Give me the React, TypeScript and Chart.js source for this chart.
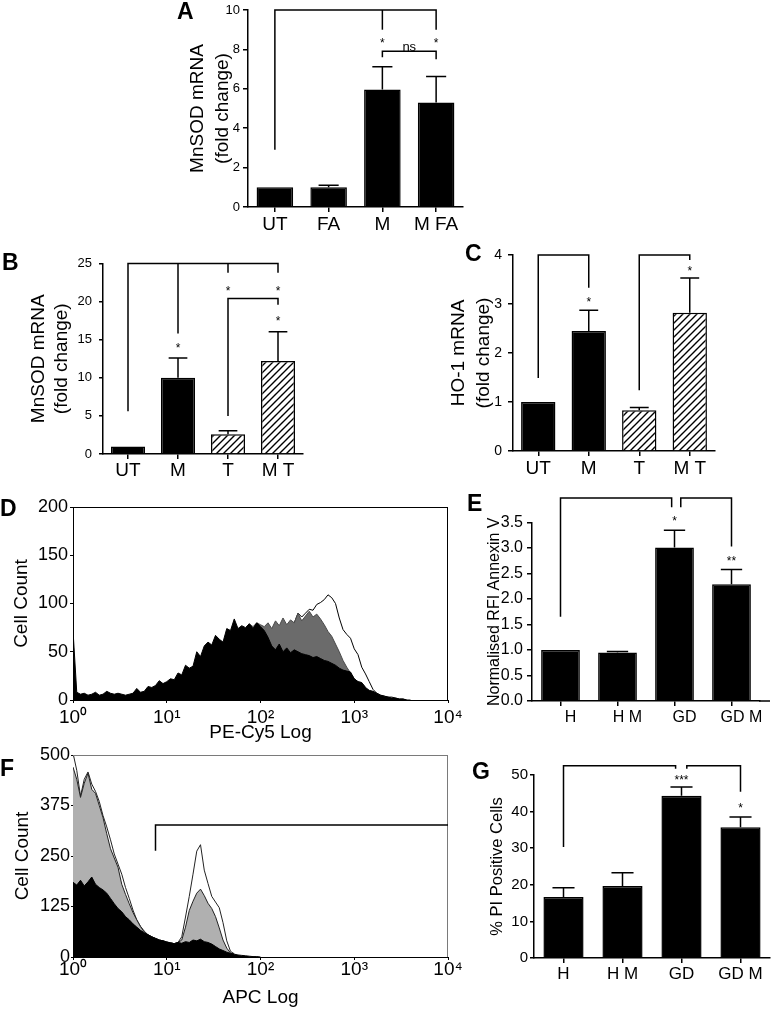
import React, { useEffect, useRef } from "react";
import { Chart, registerables } from "chart.js";

Chart.register(...registerables);

const FONT = "'Liberation Sans', Arial, Helvetica, sans-serif";

// ================= DATA =================
// Panel A
const aCategories = ["UT", "FA", "M", "M FA"];
const aValues = [1.0, 1.0, 5.97, 5.3];
const aErrors = [0, 0.1, 1.15, 1.32];
const aHatched = [false, false, false, false];
const aYTicks = [0, 2, 4, 6, 8, 10];
const aYLabels = ["0", "2", "4", "6", "8", "10"];
const aBrackets: [number, number][][] = [
  [[0, 2.9], [0, 10], [3, 10], [3, 9.0]],
  [[2, 10], [2, 9.0]],
  [[2, 7.6], [2, 7.9], [3, 7.9], [3, 7.5]],
];
const aSignif = [
  { x: 2, y: 8.45, text: "*" },
  { x: 3, y: 8.45, text: "*" },
  { x: 2.5, y: 8.1, text: "ns" },
];

// Panel B
const bCategories = ["UT", "M", "T", "M T"];
const bValues = [1.0, 10.0, 2.6, 12.2];
const bErrors = [0, 2.6, 0.45, 3.85];
const bHatched = [false, false, true, true];
const bYTicks = [0, 5, 10, 15, 20, 25];
const bYLabels = ["0", "5", "10", "15", "20", "25"];
const bBrackets: [number, number][][] = [
  [[0, 5.6], [0, 25], [3, 25], [3, 23.8]],
  [[1, 25], [1, 15.8]],
  [[2, 25], [2, 23.8]],
  [[2, 5.0], [2, 20.4], [3, 20.4], [3, 19.6]],
];
const bSignif = [
  { x: 1, y: 14.3, text: "*" },
  { x: 2, y: 21.8, text: "*" },
  { x: 3, y: 21.8, text: "*" },
  { x: 3, y: 17.8, text: "*" },
];

// Panel C
const cCategories = ["UT", "M", "T", "M T"];
const cValues = [1.0, 2.45, 0.83, 2.82];
const cErrors = [0, 0.42, 0.06, 0.71];
const cHatched = [false, false, true, true];
const cYTicks = [0, 1, 2, 3, 4];
const cYLabels = ["0", "1", "2", "3", "4"];
const cBrackets: [number, number][][] = [
  [[0, 1.49], [0, 4], [1, 4], [1, 3.33]],
  [[2, 1.24], [2, 4], [3, 4], [3, 3.9]],
];
const cSignif = [
  { x: 1, y: 3.1, text: "*" },
  { x: 3, y: 3.73, text: "*" },
];

// Panel E
const eCategories = ["H", "H M", "GD", "GD M"];
const eValues = [1.0, 0.95, 3.01, 2.29];
const eErrors = [0, 0.02, 0.34, 0.29];
const eHatched = [false, false, false, false];
const eYTicks = [0, 0.5, 1, 1.5, 2, 2.5, 3, 3.5];
const eYLabels = ["0.0", "0.5", "1.0", "1.5", "2.0", "2.5", "3.0", "3.5"];
const eBrackets: [number, number][][] = [
  [[0, 1.65], [0, 3.98], [1.95, 3.98], [1.95, 3.8]],
  [[2.11, 3.8], [2.11, 3.98], [3, 3.98], [3, 3.03]],
];
const eSignif = [
  { x: 2, y: 3.59, text: "*" },
  { x: 3, y: 2.8, text: "**" },
];

// Panel G
const gCategories = ["H", "H M", "GD", "GD M"];
const gValues = [16.7, 19.7, 44.3, 35.7];
const gErrors = [2.5, 3.6, 2.4, 2.8];
const gHatched = [false, false, false, false];
const gYTicks = [0, 10, 20, 30, 40, 50];
const gYLabels = ["0", "10", "20", "30", "40", "50"];
const gBrackets: [number, number][][] = [
  [[0, 30.3], [0, 52.5], [1.9, 52.5], [1.9, 51.7]],
  [[2.09, 51.7], [2.09, 52.5], [3, 52.5], [3, 45.4]],
];
const gSignif = [
  { x: 2, y: 49.5, text: "***" },
  { x: 3, y: 41.8, text: "*" },
];

// Histograms (x in decades of log fluorescence, bins every 0.04 decade)
const decades = [0, 1, 2, 3, 4];
const decadeLabels = ["10\u2070", "10\u00b9", "10\u00b2", "10\u00b3", "10\u2074"];
const binStep = 0.04;

// Panel D (PE-Cy5)
const dYTicks = [0, 50, 100, 150, 200];
const dYLabels = ["0", "50", "100", "150", "200"];
const dBlackStart = 0;
const dBlack = [
  72, 8, 6, 7, 5, 6, 8, 5, 6, 9, 7, 6, 7, 6, 5, 6, 7, 12, 8, 9,
  14, 13, 15, 20, 17, 19, 22, 21, 28, 26, 36, 33, 35, 50, 45, 56, 60, 57, 67, 63,
  60, 74, 72, 84, 74, 77, 75, 79, 74, 80, 76, 72, 65, 56, 52, 58, 50, 54, 49, 52,
  50, 48, 47, 46, 44, 45, 43, 41, 40, 38, 36, 33, 31, 30, 29, 22, 19, 18, 13, 10,
  9, 7, 5, 4, 3, 2, 2, 1, 1, 0, 0,
];
const dGrayStart = 1.88;
const dGray = [
  79, 76, 80, 78, 76, 80, 74, 82, 77, 85, 78, 83, 80, 90, 82, 87, 92, 86, 89, 84,
  78, 71, 66, 58, 50, 41, 34, 28, 22, 19, 18, 13,
];
const dWhiteStart = 2.36;
const dWhite = [
  80, 90, 86, 90, 94, 93, 99, 101, 104, 109, 106, 100, 85, 73, 68, 64, 53, 47, 34, 27,
  19, 11, 7, 5, 4, 3, 3, 2, 1, 1, 0,
];

// Panel F (APC)
const fYTicks = [0, 125, 250, 375, 500];
const fYLabels = ["0", "125", "250", "375", "500"];
const fBlackStart = 0;
const fBlack = [
  185, 178, 190, 176, 186, 198, 180, 172, 166, 158, 145, 132, 120, 112, 100, 92, 82, 74, 66, 60,
  55, 50, 46, 42, 40, 37, 35, 33, 36, 34, 38, 36, 42, 40, 44, 38, 36, 32, 26, 20,
  16, 12, 9, 7, 5, 4, 3, 2, 1, 1, 0,
];
const fGrayStart = 0;
const fGray = [
  470, 440, 395, 430, 455, 415, 405, 375, 345, 305, 268, 245, 222, 180, 155, 132, 110, 92, 75, 62,
  55, 50, 46, 42, 40, 37, 35, 33, 36, 42, 74, 115, 138, 158, 168, 152, 133, 120, 100, 72,
  42, 22, 10, 7,
];
const fWhiteStart = 0;
const fWhite = [
  505, 462, 398, 440, 458, 428, 410, 385, 350, 322, 290, 255, 230, 205, 172, 145, 116, 92, 76, 64,
  55, 50, 46, 42, 40, 37, 35, 33, 36, 50, 99, 150, 205, 262, 278, 215, 182, 150, 136, 122,
  85, 40, 14, 8,
];
const fGate: [number, number][][] = [[[0.88, 263], [0.88, 327], [4, 327]]];

// ================= HELPERS =================
type Pt = [number, number];
type Sig = { x: number; y: number; text: string };
interface Box { left: number; top: number; width: number; height: number }
interface Area { left: number; top: number; right: number; bottom: number }

function makeHatch(ctx: CanvasRenderingContext2D): CanvasPattern | string {
  const c = document.createElement("canvas");
  const n = 7;
  c.width = n;
  c.height = n;
  const g = c.getContext("2d");
  if (!g) return "#fff";
  g.fillStyle = "#fff";
  g.fillRect(0, 0, n, n);
  g.strokeStyle = "#000";
  g.lineWidth = 1.4;
  g.beginPath();
  g.moveTo(-1, n + 1);
  g.lineTo(n + 1, -1);
  g.moveTo(-1, 1);
  g.lineTo(1, -1);
  g.moveTo(n - 1, n + 1);
  g.lineTo(n + 1, n - 1);
  g.stroke();
  return ctx.createPattern(c, "repeat") || "#fff";
}

function layoutPadding(rect: Box, area: Area) {
  return {
    padding: {
      top: area.top - rect.top,
      right: rect.left + rect.width - area.right,
      left: 0,
      bottom: 0,
    },
  };
}

function errorBarsPlugin(errors: number[], capFrac: number) {
  return {
    id: "errorBars",
    afterDatasetsDraw(chart: any) {
      const meta = chart.getDatasetMeta(0);
      const ys = chart.scales.y;
      const ctx = chart.ctx as CanvasRenderingContext2D;
      const vals = chart.data.datasets[0].data as number[];
      ctx.save();
      ctx.strokeStyle = "#000";
      ctx.lineWidth = 1.5;
      meta.data.forEach((bar: any, i: number) => {
        const e = errors[i];
        if (!e) return;
        const base = ys.getPixelForValue(vals[i]);
        const top = ys.getPixelForValue(vals[i] + e);
        const half = (bar.width * capFrac) / 2;
        ctx.beginPath();
        ctx.moveTo(bar.x, base);
        ctx.lineTo(bar.x, top);
        ctx.moveTo(bar.x - half, top);
        ctx.lineTo(bar.x + half, top);
        ctx.stroke();
      });
      ctx.restore();
    },
  };
}

function marksPlugin(
  paths: Pt[][],
  sigs: Sig[],
  o: { lineWidth: number; starSize: number; nsSize: number; axisExtend?: number; frame?: { top: string; right: string } }
) {
  return {
    id: "marks",
    afterDraw(chart: any) {
      const ctx = chart.ctx as CanvasRenderingContext2D;
      const xs = chart.scales.x;
      const ys = chart.scales.y;
      const ca = chart.chartArea;
      ctx.save();
      if (o.frame) {
        ctx.lineWidth = 1;
        ctx.strokeStyle = o.frame.top;
        ctx.beginPath();
        ctx.moveTo(ca.left, Math.round(ca.top) + 0.5);
        ctx.lineTo(ca.right, Math.round(ca.top) + 0.5);
        ctx.stroke();
        ctx.strokeStyle = o.frame.right;
        ctx.beginPath();
        ctx.moveTo(Math.round(ca.right) - 0.5, ca.top);
        ctx.lineTo(Math.round(ca.right) - 0.5, ca.bottom);
        ctx.stroke();
      }
      if (o.axisExtend) {
        ctx.strokeStyle = "#000";
        ctx.lineWidth = 1.5;
        ctx.beginPath();
        ctx.moveTo(ca.right - 1, ca.bottom);
        ctx.lineTo(ca.right + o.axisExtend, ca.bottom);
        ctx.stroke();
      }
      ctx.strokeStyle = "#000";
      ctx.lineWidth = o.lineWidth;
      ctx.lineJoin = "miter";
      for (const p of paths) {
        ctx.beginPath();
        p.forEach(([vx, vy], i) => {
          const px = xs.getPixelForValue(vx);
          const py = ys.getPixelForValue(vy);
          if (i === 0) ctx.moveTo(px, py);
          else ctx.lineTo(px, py);
        });
        ctx.stroke();
      }
      ctx.fillStyle = "#000";
      ctx.textAlign = "center";
      ctx.textBaseline = "alphabetic";
      for (const s of sigs) {
        const star = s.text.includes("*");
        const size = star ? o.starSize : o.nsSize;
        const k = star ? 0.58 : 0.27;
        ctx.font = `${size}px ${FONT}`;
        ctx.fillText(s.text, xs.getPixelForValue(s.x), ys.getPixelForValue(s.y) + k * size);
      }
      ctx.restore();
    },
  };
}

interface BarSpec {
  rect: Box;
  area: Area;
  categories: string[];
  values: number[];
  errors: number[];
  hatched: boolean[];
  yTicks: number[];
  yLabels: string[];
  yTitle: string[];
  yTitleSize: number;
  yTitleLine: number;
  yTitlePad: number;
  yTickSize: number;
  yTickLen: number;
  yTickPad: number;
  xSize: number;
  xTickLen: number;
  xPad: number;
  xOffset: number;
  brackets: Pt[][];
  sigs: Sig[];
  starSize: number;
  axisExtend?: number;
}

function buildBar(canvas: HTMLCanvasElement, s: BarSpec) {
  const ctx = canvas.getContext("2d") as CanvasRenderingContext2D;
  const hatch = makeHatch(ctx);
  return new Chart(canvas, {
    type: "bar",
    data: {
      labels: s.categories,
      datasets: [
        {
          data: s.values,
          backgroundColor: s.hatched.map((h) => (h ? hatch : "#000")) as any,
          borderColor: "#000",
          borderWidth: 1.5,
          barPercentage: 0.68,
          categoryPercentage: 1,
        },
      ],
    },
    options: {
      animation: false,
      responsive: false,
      maintainAspectRatio: false,
      devicePixelRatio: 1,
      layout: layoutPadding(s.rect, s.area),
      plugins: { legend: { display: false }, tooltip: { enabled: false } },
      scales: {
        x: {
          grid: { display: true, drawOnChartArea: false, offset: false, tickLength: s.xTickLen, color: "#000", lineWidth: 1.5 },
          border: { display: true, color: "#000", width: 1.5 },
          ticks: {
            color: "#000",
            font: { family: FONT, size: s.xSize },
            padding: s.xPad,
            labelOffset: s.xOffset,
            maxRotation: 0,
            autoSkip: false,
          },
          afterFit: (sc: any) => {
            sc.height = s.rect.top + s.rect.height - s.area.bottom;
          },
        } as any,
        y: {
          min: s.yTicks[0],
          max: s.yTicks[s.yTicks.length - 1],
          afterBuildTicks: (sc: any) => {
            sc.ticks = s.yTicks.map((v) => ({ value: v }));
          },
          grid: { display: true, drawOnChartArea: false, tickLength: s.yTickLen, color: "#000", lineWidth: 1.5 },
          border: { display: true, color: "#000", width: 1.5 },
          ticks: {
            color: "#000",
            font: { family: FONT, size: s.yTickSize, lineHeight: 1 },
            padding: s.yTickPad,
            callback: (_v: any, i: number) => s.yLabels[i],
          },
          title: {
            display: true,
            text: s.yTitle,
            color: "#000",
            font: { family: FONT, size: s.yTitleSize, lineHeight: s.yTitleLine / s.yTitleSize },
            padding: { top: s.yTitlePad, bottom: 0 },
          },
          afterFit: (sc: any) => {
            sc.width = s.area.left - s.rect.left;
          },
        } as any,
      },
    },
    plugins: [
      errorBarsPlugin(s.errors, 0.55),
      marksPlugin(s.brackets, s.sigs, { lineWidth: 1.5, starSize: 12, nsSize: 13, axisExtend: s.axisExtend }),
    ],
  });
}

interface HistSeries { start: number; counts: number[]; fill: string; line: string }
interface HistSpec {
  rect: Box;
  area: Area;
  series: HistSeries[];
  yTicks: number[];
  yLabels: string[];
  yTitle: string;
  yTitlePad: number;
  yTickLen: number;
  yTickPad: number;
  xTitle: string;
  xTickLen: number;
  xPad: number;
  frame: { top: string; right: string };
  gate: Pt[][];
}

function buildHist(canvas: HTMLCanvasElement, s: HistSpec) {
  return new Chart(canvas, {
    type: "line",
    data: {
      datasets: s.series.map((ser) => ({
        data: ser.counts.map((c, i) => ({ x: ser.start + i * binStep, y: c })),
        borderColor: ser.line,
        backgroundColor: ser.fill,
        fill: "origin",
        borderWidth: 1,
        pointRadius: 0,
        tension: 0,
      })),
    },
    options: {
      animation: false,
      responsive: false,
      maintainAspectRatio: false,
      devicePixelRatio: 1,
      layout: layoutPadding(s.rect, s.area),
      plugins: { legend: { display: false }, tooltip: { enabled: false } },
      scales: {
        x: {
          type: "linear",
          min: decades[0],
          max: decades[decades.length - 1],
          afterBuildTicks: (sc: any) => {
            sc.ticks = decades.map((v) => ({ value: v }));
          },
          grid: { display: true, drawOnChartArea: false, tickLength: s.xTickLen, color: "#000", lineWidth: 1 },
          border: { display: true, color: "#000", width: 1 },
          ticks: {
            color: "#000",
            font: { family: FONT, size: 19 },
            padding: s.xPad,
            maxRotation: 0,
            autoSkip: false,
            callback: (_v: any, i: number) => decadeLabels[i],
          },
          title: {
            display: true,
            text: s.xTitle,
            color: "#000",
            font: { family: FONT, size: 19 },
            padding: { top: 0, bottom: 1 },
          },
          afterFit: (sc: any) => {
            sc.height = s.rect.top + s.rect.height - s.area.bottom;
          },
        } as any,
        y: {
          min: s.yTicks[0],
          max: s.yTicks[s.yTicks.length - 1],
          afterBuildTicks: (sc: any) => {
            sc.ticks = s.yTicks.map((v) => ({ value: v }));
          },
          grid: { display: true, drawOnChartArea: false, tickLength: s.yTickLen, color: "#000", lineWidth: 1 },
          border: { display: true, color: "#000", width: 1 },
          ticks: {
            color: "#000",
            font: { family: FONT, size: 18, lineHeight: 1 },
            padding: s.yTickPad,
            callback: (_v: any, i: number) => s.yLabels[i],
          },
          title: {
            display: true,
            text: s.yTitle,
            color: "#000",
            font: { family: FONT, size: 19 },
            padding: { top: s.yTitlePad, bottom: 0 },
          },
          afterFit: (sc: any) => {
            sc.width = s.area.left - s.rect.left;
          },
        } as any,
      },
    },
    plugins: [marksPlugin(s.gate, [], { lineWidth: 1.5, starSize: 12, nsSize: 13, frame: s.frame })],
  });
}

// ================= PANEL SPECS =================
const specA: BarSpec = {
  rect: { left: 180, top: 0, width: 295, height: 245 },
  area: { left: 248, top: 10, right: 463, bottom: 207 },
  categories: aCategories, values: aValues, errors: aErrors, hatched: aHatched,
  yTicks: aYTicks, yLabels: aYLabels,
  yTitle: ["MnSOD mRNA", "(fold change)"], yTitleSize: 19, yTitleLine: 25, yTitlePad: 5.5,
  yTickSize: 13, yTickLen: 5, yTickPad: 3,
  xSize: 19, xTickLen: 5, xPad: 1, xOffset: 0,
  brackets: aBrackets, sigs: aSignif, starSize: 12,
};

const specB: BarSpec = {
  rect: { left: 0, top: 250, width: 315, height: 240 },
  area: { left: 103, top: 261, right: 303, bottom: 454 },
  categories: bCategories, values: bValues, errors: bErrors, hatched: bHatched,
  yTicks: bYTicks, yLabels: bYLabels,
  yTitle: ["MnSOD mRNA", "(fold change)"], yTitleSize: 19, yTitleLine: 23, yTitlePad: 27.5,
  yTickSize: 13, yTickLen: 4, yTickPad: 7,
  xSize: 19, xTickLen: 5, xPad: 0, xOffset: 0,
  brackets: bBrackets, sigs: bSignif, starSize: 12,
};

const specC: BarSpec = {
  rect: { left: 400, top: 240, width: 330, height: 250 },
  area: { left: 513, top: 255, right: 715, bottom: 451 },
  categories: cCategories, values: cValues, errors: cErrors, hatched: cHatched,
  yTicks: cYTicks, yLabels: cYLabels,
  yTitle: ["HO-1 mRNA", "(fold change)"], yTitleSize: 19, yTitleLine: 25, yTitlePad: 46.5,
  yTickSize: 14, yTickLen: 5, yTickPad: 6,
  xSize: 19, xTickLen: 5, xPad: 1, xOffset: 0,
  brackets: cBrackets, sigs: cSignif, starSize: 12,
};

const specE: BarSpec = {
  rect: { left: 460, top: 495, width: 311, height: 240 },
  area: { left: 532, top: 522.5, right: 760, bottom: 701 },
  categories: eCategories, values: eValues, errors: eErrors, hatched: eHatched,
  yTicks: eYTicks, yLabels: eYLabels,
  yTitle: ["Normalised RFI Annexin V"], yTitleSize: 16, yTitleLine: 19.2, yTitlePad: 25.4,
  yTickSize: 16, yTickLen: 5, yTickPad: 4,
  xSize: 16, xTickLen: 5, xPad: 2, xOffset: 10,
  brackets: eBrackets, sigs: eSignif, starSize: 11, axisExtend: 10,
};

const specG: BarSpec = {
  rect: { left: 460, top: 745, width: 311, height: 265 },
  area: { left: 534, top: 775, right: 770, bottom: 958 },
  categories: gCategories, values: gValues, errors: gErrors, hatched: gHatched,
  yTicks: gYTicks, yLabels: gYLabels,
  yTitle: ["% PI Positive Cells"], yTitleSize: 16.5, yTitleLine: 19.8, yTitlePad: 27.1,
  yTickSize: 15, yTickLen: 4, yTickPad: 2,
  xSize: 17, xTickLen: 5, xPad: 1, xOffset: 0,
  brackets: gBrackets, sigs: gSignif, starSize: 11,
};

const specD: HistSpec = {
  rect: { left: 0, top: 495, width: 470, height: 250 },
  area: { left: 73, top: 507, right: 448, bottom: 700 },
  series: [
    { start: dBlackStart, counts: dBlack, fill: "#000", line: "#000" },
    { start: dGrayStart, counts: dGray, fill: "#6b6b6b", line: "#4a4a4a" },
    { start: dWhiteStart, counts: dWhite, fill: "#fff", line: "#000" },
  ],
  yTicks: dYTicks, yLabels: dYLabels, yTitle: "Cell Count", yTitlePad: 10.6,
  yTickLen: 3, yTickPad: 2, xTitle: "PE-Cy5 Log", xTickLen: 3, xPad: 3,
  frame: { top: "#000", right: "#000" },
  gate: [],
};

const specF: HistSpec = {
  rect: { left: 0, top: 745, width: 470, height: 265 },
  area: { left: 73, top: 754, right: 448, bottom: 957 },
  series: [
    { start: fBlackStart, counts: fBlack, fill: "#000", line: "#000" },
    { start: fGrayStart, counts: fGray, fill: "#b0b0b0", line: "#222" },
    { start: fWhiteStart, counts: fWhite, fill: "#fff", line: "#222" },
  ],
  yTicks: fYTicks, yLabels: fYLabels, yTitle: "Cell Count", yTitlePad: 11,
  yTickLen: 2, yTickPad: 1, xTitle: "APC Log", xTickLen: 3, xPad: -2,
  frame: { top: "#7a7a7a", right: "#7a7a7a" },
  gate: fGate,
};

// ================= COMPONENTS =================
function ChartCanvas({ rect, make }: { rect: Box; make: (c: HTMLCanvasElement) => Chart }) {
  const ref = useRef<HTMLCanvasElement>(null);
  useEffect(() => {
    if (!ref.current) return;
    const chart = make(ref.current);
    return () => chart.destroy();
  }, []);
  return (
    <canvas
      ref={ref}
      width={rect.width}
      height={rect.height}
      style={{ position: "absolute", left: rect.left, top: rect.top, width: rect.width, height: rect.height }}
    />
  );
}

function Letter({ text, left, capTop }: { text: string; left: number; capTop: number }) {
  return (
    <div
      style={{
        position: "absolute",
        left,
        top: capTop - 3,
        font: `bold 23px ${FONT}`,
        lineHeight: "23px",
        color: "#000",
      }}
    >
      {text}
    </div>
  );
}

export default function App() {
  return (
    <div style={{ position: "absolute", left: 0, top: 0, width: 771, height: 1010, background: "#fff", overflow: "hidden" }}>
      <ChartCanvas rect={specD.rect} make={(c) => buildHist(c, specD)} />
      <ChartCanvas rect={specF.rect} make={(c) => buildHist(c, specF)} />
      <ChartCanvas rect={specA.rect} make={(c) => buildBar(c, specA)} />
      <ChartCanvas rect={specB.rect} make={(c) => buildBar(c, specB)} />
      <ChartCanvas rect={specC.rect} make={(c) => buildBar(c, specC)} />
      <ChartCanvas rect={specE.rect} make={(c) => buildBar(c, specE)} />
      <ChartCanvas rect={specG.rect} make={(c) => buildBar(c, specG)} />
      <Letter text="A" left={177} capTop={3} />
      <Letter text="B" left={2} capTop={254} />
      <Letter text="C" left={465} capTop={245} />
      <Letter text="D" left={0} capTop={500} />
      <Letter text="E" left={467} capTop={495} />
      <Letter text="F" left={0} capTop={760} />
      <Letter text="G" left={472} capTop={763} />
    </div>
  );
}
